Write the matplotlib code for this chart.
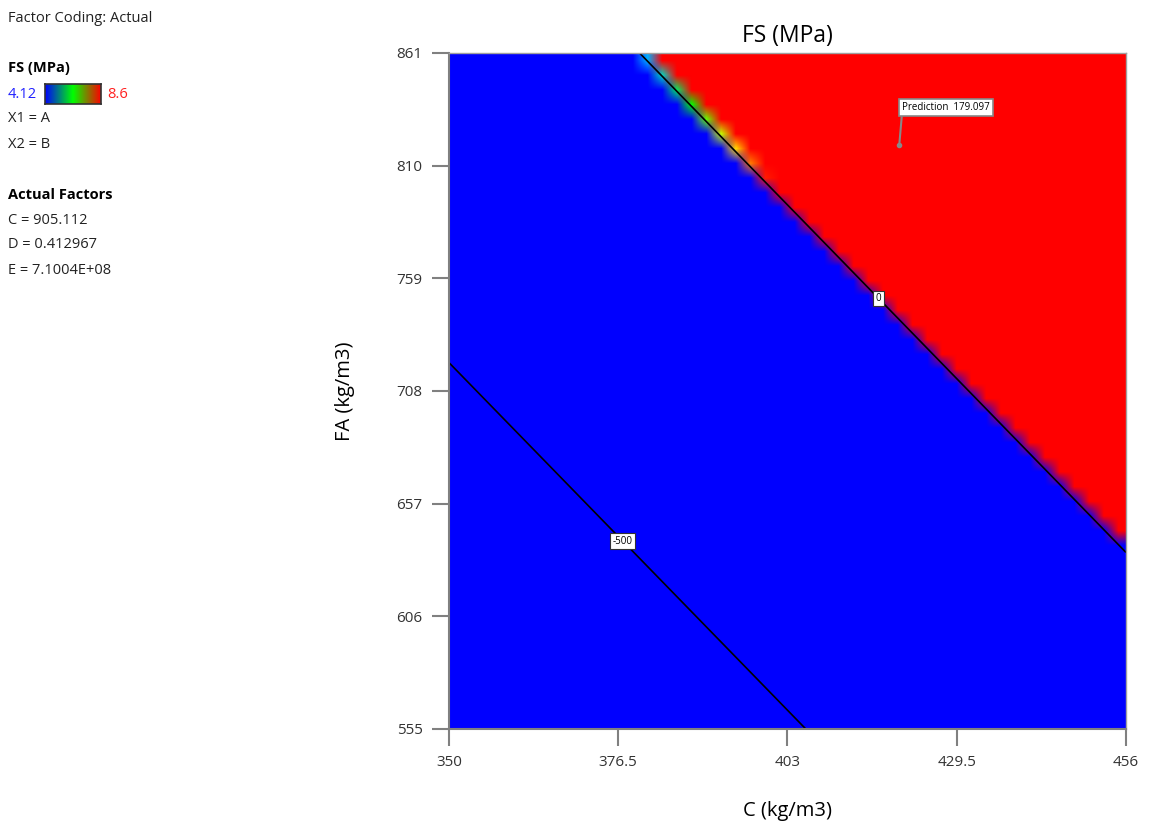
import numpy as np
import matplotlib
matplotlib.use("Agg")
import matplotlib.pyplot as plt
from matplotlib.colors import LinearSegmentedColormap

plt.rcParams['font.family'] = ['Open Sans', 'DejaVu Sans']

# axis ranges and ticks (actual factor units)
c_ticks = [350, 376.5, 403, 429.5, 456]
fa_ticks = [555, 606, 657, 708, 759, 810, 861]

# linear response: FS = b0 + b1*C + b2*FA
fs_coef = [-4346.9, 6.489, 2.186]
contour_levels = [-500, 0]
label_spots = [(377.7, 641.4), (417.5, 750.5)]

# colour scale shown in the legend
fs_low, fs_high = 4.12, 8.6

# prediction flag
pred_point = (420.5, 819.4)
pred_value = 179.097

legend_lines = ["X1 = A", "X2 = B"]
actual_factors = ["C = 905.112", "D = 0.412967", "E = 7.1004E+08"]


def fs_model(c, fa):
    return fs_coef[0] + fs_coef[1] * c + fs_coef[2] * fa


fig = plt.figure(figsize=(11.52, 8.26), dpi=100)
ax = fig.add_axes([449 / 1152, 97 / 826, 677 / 1152, 676 / 826])

# coarse response grid, colours blended between nodes like the original
cg = np.linspace(c_ticks[0], c_ticks[-1], 46)
fg = np.linspace(fa_ticks[0], fa_ticks[-1], 46)
CC, FF = np.meshgrid(cg, fg)
Z = fs_model(CC, FF)

field_cmap = LinearSegmentedColormap.from_list(
    "de", ["#0000ff", "#00c8ff", "#00ff00", "#ffff00", "#ff0000"])
ax.imshow(Z, origin='lower', cmap=field_cmap, vmin=fs_low, vmax=fs_high,
          extent=[cg[0], cg[-1], fg[0], fg[-1]], aspect='auto',
          interpolation='bilinear', interpolation_stage='rgba')

# fine grid for sharp contour lines
cf, ff = np.meshgrid(np.linspace(c_ticks[0], c_ticks[-1], 300),
                     np.linspace(fa_ticks[0], fa_ticks[-1], 300))
cs = ax.contour(cf, ff, fs_model(cf, ff), levels=contour_levels, colors='black',
                linewidths=1.2, linestyles='solid')
labels = ax.clabel(cs, fmt='%d', fontsize=7, inline=False, manual=label_spots)
for t in labels:
    t.set_rotation(0)
    t.set_bbox(dict(boxstyle='square,pad=0.25', fc='white', ec='#333333', lw=0.8))

# prediction flag
ax.plot(*pred_point, 'o', ms=3, color='#888888', zorder=5)
ax.annotate(f"Prediction  {pred_value}", xy=pred_point, xytext=(2, 23),
            textcoords='offset points', fontsize=7, ha='left', va='bottom',
            bbox=dict(boxstyle='square,pad=0.35', fc='white', ec='#888888', lw=1.2),
            arrowprops=dict(arrowstyle='-', color='#888888', lw=1.5, relpos=(0, 0),
                            shrinkA=0, shrinkB=0), zorder=6)

ax.set_xlim(c_ticks[0], c_ticks[-1])
ax.set_ylim(fa_ticks[0], fa_ticks[-1])
ax.set_xticks(c_ticks)
ax.set_xticklabels(['350', '376.5', '403', '429.5', '456'])
ax.set_yticks(fa_ticks)
ax.tick_params(direction='out', length=12, width=1.5, color='#808080',
               labelsize=11, labelcolor='#333333', pad=7)
for side in ['left', 'bottom']:
    ax.spines[side].set_color('#808080')
    ax.spines[side].set_linewidth(1.5)
for side in ['top', 'right']:
    ax.spines[side].set_color('#a0a0a0')
    ax.spines[side].set_linewidth(1.0)

ax.set_title("FS (MPa)", fontsize=16.5, pad=8)
ax.set_xlabel("C (kg/m3)", fontsize=14.5, labelpad=22)
ax.set_ylabel("FA (kg/m3)", fontsize=14.5, labelpad=30)

# left-hand info panel
def px(x, y):
    return x / 1152, 1 - y / 826

fig.text(*px(8, 18), "Factor Coding: Actual", fontsize=10.5, va='center', color='#222222')
fig.text(*px(8, 68), "FS (MPa)", fontsize=10.5, fontweight='bold', va='center')
fig.text(*px(8, 94), f"{fs_low}", fontsize=10.5, color='#2020ff', va='center')
fig.text(*px(107, 94), f"{fs_high:g}", fontsize=10.5, color='#ff2020', va='center')
cax = fig.add_axes([45 / 1152, 1 - 104 / 826, 56 / 1152, 20 / 826])
bar_cmap = LinearSegmentedColormap.from_list("bar", ["#0000ff", "#00ff00", "#ff0000"])
cax.imshow(np.linspace(0, 1, 256)[None, :], cmap=bar_cmap, aspect='auto')
cax.set_xticks([])
cax.set_yticks([])
for s in cax.spines.values():
    s.set_color('#333333')
    s.set_linewidth(1.2)
for i, line in enumerate(legend_lines):
    fig.text(*px(8, 119 + 25 * i), line, fontsize=10.5, va='center', color='#222222')
fig.text(*px(8, 195), "Actual Factors", fontsize=10.5, fontweight='bold', va='center')
for i, line in enumerate(actual_factors):
    fig.text(*px(8, 220 + 25 * i), line, fontsize=10.5, va='center', color='#222222')

fig.savefig("out.png", dpi=100)
